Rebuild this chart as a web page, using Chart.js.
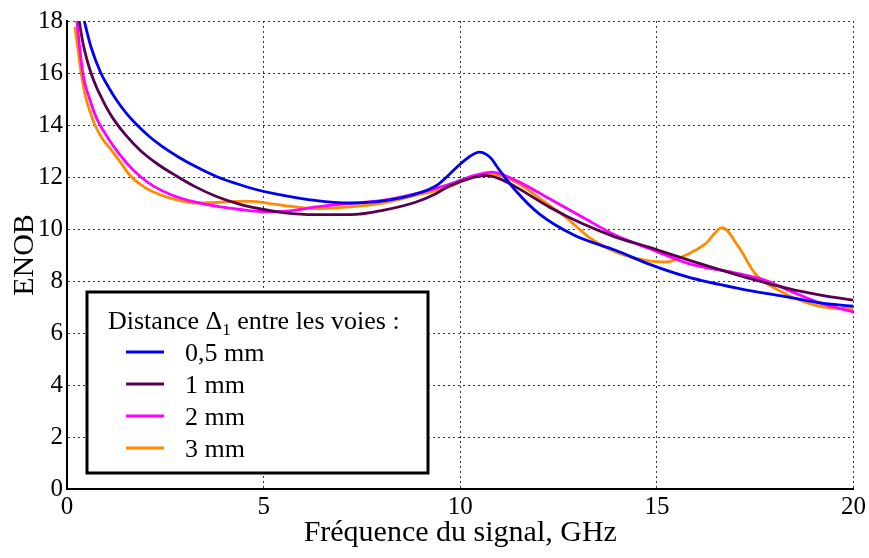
<!DOCTYPE html>
<html>
<head>
<meta charset="utf-8">
<title>ENOB</title>
<script src="https://cdn.jsdelivr.net/npm/chart.js"></script>
<style>
  html, body { margin: 0; padding: 0; background: #fff; }
  canvas { display: block; }
</style>
</head>
<body>
<canvas id="myChart" width="869" height="558"></canvas>
<script>
// distance between the channels
const seriesLabels = ["0,5 mm", "1 mm", "2 mm", "3 mm"];
const seriesColors = ["#0000f0", "#550050", "#ff00ff", "#ff8c00"];

// frequency (GHz) / ENOB
const freq05 = [0.38, 0.44, 0.61, 0.86, 1.05, 1.24, 1.5, 1.8, 2.1, 2.4, 2.8, 3.27, 3.8, 4.3, 4.8, 5.3, 6.3, 7.2, 8.0, 8.9, 9.4, 9.7, 10.0, 10.25, 10.48, 10.75, 11.0, 11.4, 12.0, 12.9, 13.95, 14.8, 15.8, 17.1, 18.35, 19.2, 20];
const enob05 = [18.4, 18.0, 17.0, 16.0, 15.47, 15.0, 14.47, 13.97, 13.55, 13.2, 12.8, 12.4, 12.02, 11.75, 11.52, 11.35, 11.1, 11.0, 11.07, 11.36, 11.68, 12.07, 12.5, 12.8, 12.96, 12.77, 12.26, 11.49, 10.59, 9.76, 9.18, 8.65, 8.15, 7.71, 7.38, 7.15, 7.03];

const freq1 = [0.27, 0.31, 0.4, 0.5, 0.61, 0.75, 0.91, 1.05, 1.24, 1.5, 1.88, 2.3, 2.77, 3.27, 3.8, 4.4, 5.0, 5.5, 6.3, 7.2, 8.03, 8.88, 9.38, 9.72, 10.23, 10.65, 10.99, 11.41, 12.26, 13.1, 13.95, 14.8, 15.81, 17.08, 18.35, 19.2, 20];
const enob1 = [18.4, 18.0, 17.2, 16.55, 16.0, 15.45, 14.95, 14.55, 14.1, 13.6, 13.0, 12.5, 12.05, 11.62, 11.25, 10.95, 10.75, 10.63, 10.55, 10.55, 10.72, 11.04, 11.36, 11.65, 11.94, 12.05, 11.94, 11.62, 10.85, 10.21, 9.69, 9.3, 8.8, 8.22, 7.71, 7.45, 7.26];

const freq2 = [0.22, 0.25, 0.32, 0.4, 0.48, 0.57, 0.7, 0.82, 1.0, 1.2, 1.4, 1.6, 1.88, 2.2, 2.68, 3.27, 3.9, 4.4, 5.0, 5.5, 6.34, 7.18, 8.03, 8.88, 9.72, 10.23, 10.82, 11.41, 12.26, 13.1, 13.95, 14.8, 15.81, 17.08, 17.76, 18.35, 19.2, 20];
const enob2 = [18.45, 18.0, 17.0, 16.0, 15.45, 15.03, 14.45, 14.05, 13.6, 13.15, 12.75, 12.4, 12.0, 11.65, 11.3, 11.03, 10.85, 10.75, 10.67, 10.68, 10.85, 10.98, 11.1, 11.36, 11.72, 12.0, 12.19, 11.87, 11.17, 10.46, 9.76, 9.25, 8.67, 8.28, 8.03, 7.64, 7.13, 6.81];

const freq3 = [0.2, 0.27, 0.36, 0.48, 0.6, 0.71, 0.9, 1.12, 1.35, 1.62, 1.9, 2.17, 2.6, 3.27, 3.8, 4.3, 4.7, 5.15, 5.49, 6.34, 7.18, 8.03, 8.88, 9.72, 10.23, 10.82, 11.41, 12.09, 12.68, 13.27, 13.95, 14.8, 15.22, 15.81, 16.24, 16.66, 17.08, 17.5, 18.1, 18.77, 19.45, 20];
const enob3 = [17.78, 17.0, 16.0, 15.03, 14.45, 14.0, 13.47, 13.05, 12.58, 12.03, 11.68, 11.44, 11.2, 11.0, 11.02, 11.06, 11.06, 10.98, 10.91, 10.78, 10.85, 11.0, 11.3, 11.62, 11.95, 12.1, 11.81, 11.1, 10.46, 9.69, 9.12, 8.77, 8.73, 9.05, 9.44, 10.05, 9.31, 8.28, 7.64, 7.19, 6.96, 6.94];

const xTicks = [0, 5, 10, 15, 20];
const yTicks = [0, 2, 4, 6, 8, 10, 12, 14, 16, 18];

const freqs = [freq05, freq1, freq2, freq3];
const enobs = [enob05, enob1, enob2, enob3];

const serif = "'Liberation Serif', 'Times New Roman', serif";

const datasets = seriesLabels.map((label, i) => ({
  label: label,
  data: freqs[i].map((f, j) => ({x: f, y: enobs[i][j]})),
  borderColor: seriesColors[i],
  backgroundColor: seriesColors[i],
  borderWidth: 2.8,
  pointRadius: 0,
  cubicInterpolationMode: "monotone",
  fill: false
}));

// legend drawn inside the plot, framed box like the original figure
const legendBox = {
  id: "legendBox",
  afterDraw(chart) {
    const ctx = chart.ctx;
    const area = chart.chartArea;
    const x0 = area.left + 20, y0 = area.top + 271;
    ctx.save();
    ctx.fillStyle = "#fff";
    ctx.fillRect(x0, y0, 341, 181);
    ctx.lineWidth = 3;
    ctx.strokeStyle = "#000";
    ctx.strokeRect(x0, y0, 341, 181);

    ctx.fillStyle = "#000";
    ctx.textBaseline = "alphabetic";
    ctx.textAlign = "left";
    let tx = x0 + 21;
    ctx.font = "26px " + serif;
    ctx.fillText("Distance \u0394", tx, y0 + 37);
    tx += ctx.measureText("Distance \u0394").width;
    ctx.font = "17px " + serif;
    ctx.fillText("1", tx, y0 + 43);
    tx += ctx.measureText("1").width;
    ctx.font = "26px " + serif;
    ctx.fillText(" entre les voies :", tx, y0 + 37);

    chart.data.datasets.forEach((ds, i) => {
      const ly = y0 + 60 + i * 32;
      ctx.strokeStyle = ds.borderColor;
      ctx.lineWidth = 3;
      ctx.beginPath();
      ctx.moveTo(x0 + 39, ly);
      ctx.lineTo(x0 + 77, ly);
      ctx.stroke();
      ctx.fillStyle = "#000";
      ctx.font = "26px " + serif;
      ctx.fillText(ds.label, x0 + 98, ly + 9);
    });
    ctx.restore();
  }
};

new Chart("myChart", {
  type: "line",
  data: {datasets: datasets},
  plugins: [legendBox],
  options: {
    responsive: false,
    animation: false,
    layout: {padding: {top: 21, right: 14, left: 0, bottom: 0}},
    plugins: {
      legend: {display: false},
      tooltip: {enabled: false}
    },
    scales: {
      x: {
        type: "linear",
        min: 0,
        max: 20,
        afterBuildTicks: s => { s.ticks = xTicks.map(v => ({value: v})); },
        afterFit: s => { s.height = 69; },
        ticks: {color: "#000", font: {family: serif, size: 25}, padding: 3, maxRotation: 0},
        grid: {color: "#333", lineWidth: 1, drawTicks: false},
        border: {display: true, color: "#000", width: 2, dash: [2, 3]},
        title: {
          display: true,
          text: "Fréquence du signal, GHz",
          color: "#000",
          font: {family: serif, size: 30, lineHeight: 1},
          padding: {top: 0, bottom: 10}
        }
      },
      y: {
        min: 0,
        max: 18,
        afterBuildTicks: s => { s.ticks = yTicks.map(v => ({value: v})); },
        afterFit: s => { s.width = 67; },
        ticks: {color: "#000", font: {family: serif, size: 25}, padding: 4},
        grid: {color: "#333", lineWidth: 1, drawTicks: false},
        border: {display: true, color: "#000", width: 2, dash: [2, 3]},
        title: {
          display: true,
          text: "ENOB",
          color: "#000",
          font: {family: serif, size: 30, lineHeight: 1},
          padding: {top: 10, bottom: 0}
        }
      }
    }
  }
});
</script>
</body>
</html>
